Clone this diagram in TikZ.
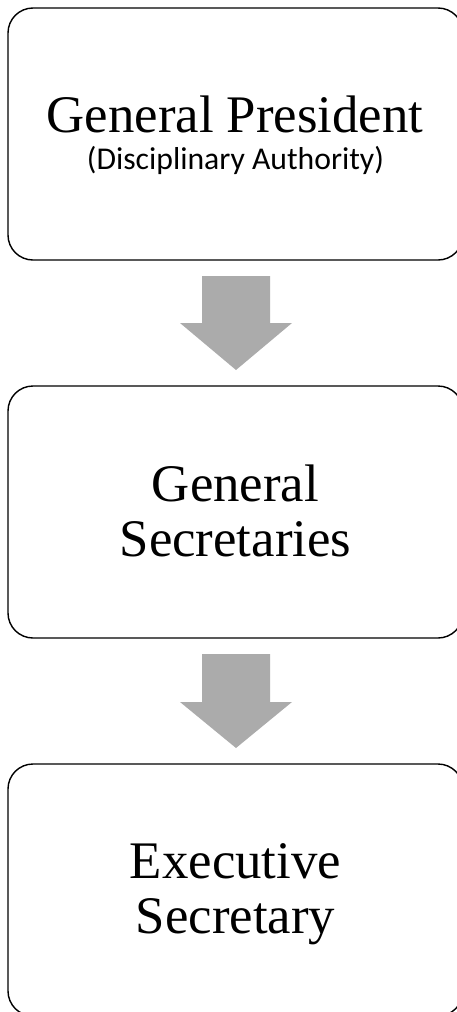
\documentclass[tikz,border=0pt]{standalone}
\usepackage{fontspec}
\setmainfont{Liberation Serif}
\newfontfamily\calib{Carlito}
\begin{document}
\begin{tikzpicture}[x=1pt,y=-1pt,
  box/.style={draw=black,line width=1.4pt,rounded corners=25pt,minimum width=455pt,minimum height=252pt,inner sep=0pt},
  big/.style={font=\fontsize{52.8}{55}\selectfont,align=center,inner sep=0pt},
  blockarrow/.style={fill=black!33,draw=none}]
\useasboundingbox (0,0) rectangle (456,1012);
\node[box] (b1) at (235.5,134) {};
\node[box] (b2) at (235.5,512) {};
\node[box] (b3) at (235.5,890) {};
\node[big,anchor=base] (t1) at (235,132) {General President};
\node[font=\calib\fontsize{31.7}{34}\selectfont,inner sep=0pt,anchor=base] (t1s) at (235.5,169) {(Disciplinary Authority)};
\node[big,anchor=base] (t2a) at (235.5,501) {General};
\node[big,anchor=base] (t2b) at (235.5,556) {Secretaries};
\node[big,anchor=base] (t3a) at (235.5,878) {Executive};
\node[big,anchor=base] (t3b) at (235.5,933) {Secretary};
\fill[blockarrow] (202,276) -- (270,276) -- (270,323) -- (292,323) -- (236,370) -- (180,323) -- (202,323) -- cycle;
\fill[blockarrow] (202,654) -- (270,654) -- (270,702) -- (292,702) -- (236,748) -- (180,702) -- (202,702) -- cycle;
\end{tikzpicture}
\end{document}
